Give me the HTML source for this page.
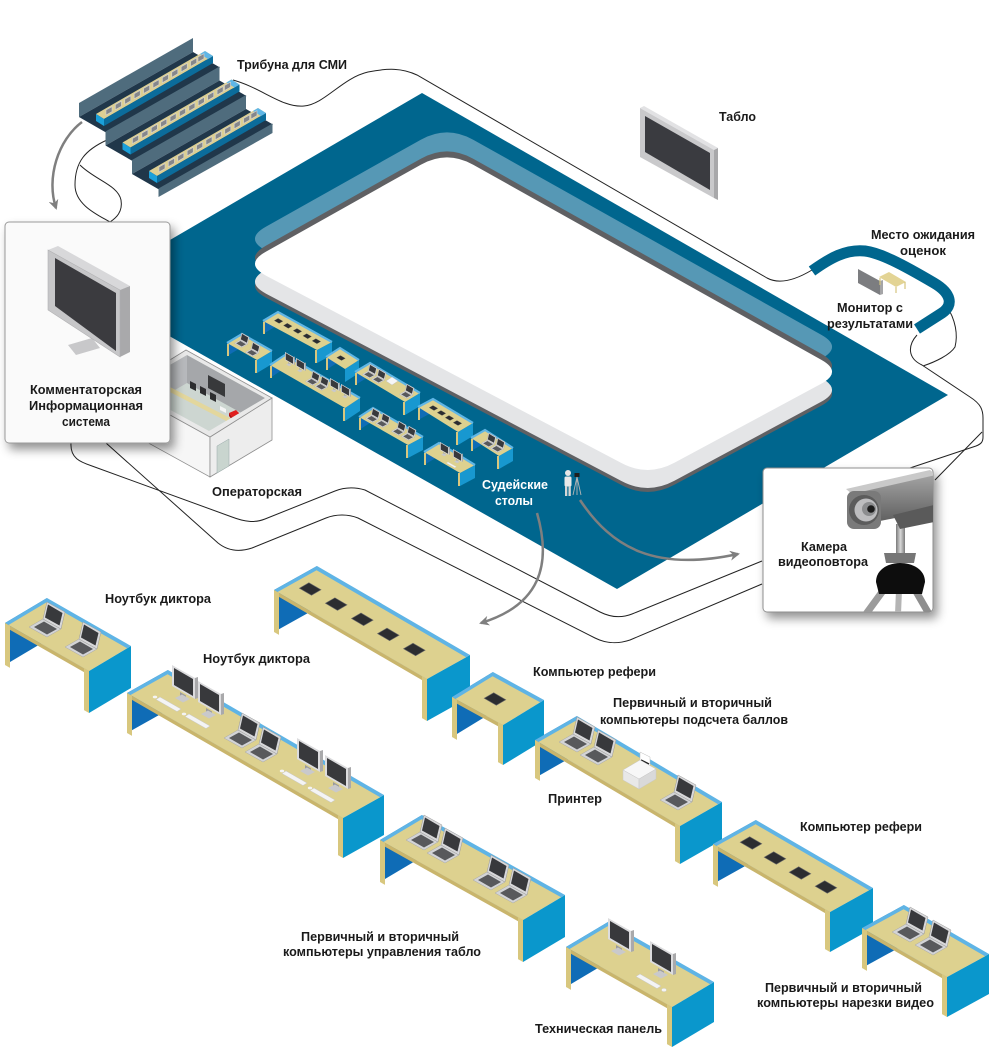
<!DOCTYPE html>
<html><head><meta charset="utf-8">
<style>
html,body{margin:0;padding:0;background:#fff;}
svg{display:block;}
text{font-family:"Liberation Sans",Arial,sans-serif;font-weight:bold;font-size:13px;fill:#1a1a1a;}
</style></head>
<body>
<svg width="992" height="1061" viewBox="0 0 992 1061" xmlns="http://www.w3.org/2000/svg">
<defs>
  <filter id="sh" x="-20%" y="-20%" width="150%" height="150%">
    <feDropShadow dx="4" dy="6" stdDeviation="5" flood-color="#000" flood-opacity="0.42"/>
  </filter>
  <marker id="ah" viewBox="0 0 10 10" refX="8" refY="5" markerWidth="4" markerHeight="4" orient="auto">
    <path d="M0,0 L10,5 L0,10 L3,5 Z" fill="#7f7f7f"/>
  </marker>
  <path id="rk" d="M473.2,164.7 L821.2,359.8 Q843,372 821,383.9 L674.4,462.8 Q648,477 621.4,463 L266.1,275.7 Q244,264 265.8,251.7 L420.8,164.7 Q447,150 473.2,164.7 Z"/>
  <g id="lap">
    <polygon points="0,0 18,10 4,18 -14,8" fill="#d3d4d6" stroke="#a8a8a8" stroke-width="0.5"/>
    <polygon points="1,2.5 14,10 4,15.5 -9,8" fill="#58595c"/>
    <polygon points="0,0 18,10 22,-7 4,-17" fill="#d8d8da" stroke="#999" stroke-width="0.5"/>
    <polygon points="2,-1.5 16.5,6.5 19.5,-6 5,-14.5" fill="#38393c"/>
  </g>
  <g id="tab"><polygon points="-10.8,-0.8 -1.3,-6.3 10.8,0.8 1.3,6.3" fill="#2c2d30" stroke="#6a6a6a" stroke-width="0.6"/></g>
  <g id="mon">
    <polygon points="8,27 14,30.5 14,36 8,32.5" fill="#9a9a9c"/>
    <polygon points="3,33 11,37.5 18,34 10,29.5" fill="#c9c9cb"/>
    <polygon points="0,0 23,13 23,34 0,21" fill="#dcdcde"/>
    <polygon points="23,13 26,12 26,33 23,34" fill="#a9a9ab"/>
    <polygon points="2,3 21,14 21,31 2,20" fill="#38393c"/>
  </g>
  <g id="kb"><polygon points="0,0 21,12 17,14.5 -4,2.5" fill="#f4f4f4" stroke="#c8c8c8" stroke-width="0.5"/></g>
  <g id="tm"><polygon points="0,0 6,-3.4 6,-8.4 0,-5" fill="#85878b" stroke="#d4d4d4" stroke-width="0.6"/></g>
  <clipPath id="rc"><polygon points="130,388 187,355 265,398 209,431"/></clipPath>
  <clipPath id="cbox"><rect x="763" y="468" width="170" height="144" rx="4"/></clipPath>
  <linearGradient id="gcam" x1="0" y1="0" x2="0" y2="1">
    <stop offset="0" stop-color="#a6a6a6"/><stop offset="1" stop-color="#5e5e5e"/>
  </linearGradient>
  <linearGradient id="gpole" x1="0" y1="0" x2="1" y2="0">
    <stop offset="0" stop-color="#7a7a7a"/><stop offset="0.5" stop-color="#d8d8d8"/><stop offset="1" stop-color="#7a7a7a"/>
  </linearGradient>
</defs>

<!-- concourse outline lines -->
<g fill="none" stroke="#222" stroke-width="1">
  <path d="M233,80 C262,88 282,108 304,106 C325,104 342,78 368,72 C388,68 402,68 417,75 L767,278 C780,285 797,279 812,270"/>
  <path d="M946,305 C956,320 958,335 955,347 C950,355 935,362 923,366"/>
  <path d="M917,335 C908,345 907,358 922,365 L970,397 C981,404 983,410 983,418 L983,437 C983,442 981,444 976,446 L910,468"/>
  <path d="M982,432 L935,480"/>
  <path d="M107,140 C85,150 75,162 75,185 C75,205 98,215 110,222"/>
  <path d="M80,165 C95,180 118,185 121,200 C123,212 116,218 110,222"/>
  <path d="M71,443 C70,458 80,462 92,466 L232,517 C245,522 255,523 265,519 L335,491 C345,487 355,487 365,490 L600,612 C612,618 622,618 632,614 L762,561"/>
  <path d="M106,443 L218,543 C228,551 240,552 252,548 L326,518 C336,514 348,514 358,518 L595,638 C607,644 618,644 630,640 L762,584"/>
</g>

<!-- floor -->
<polygon points="422,93 948,395 617,589 86,289" fill="#00668e"/>

<!-- rink -->
<use href="#rk" transform="translate(0,-25)" fill="#5698b5"/>
<use href="#rk" transform="translate(0,-6)" fill="#5f6063"/>
<use href="#rk" transform="translate(0,22)" fill="#5f6063"/>
<use href="#rk" transform="translate(0,18)" fill="#e4e5e7"/>
<use href="#rk" fill="#ffffff"/>

<!-- judges tables (tiny) -->
<g>
  <polygon points="263,321 278,312 278,325 263,334" fill="#0f6cb6"/>
  <polygon points="317,350 332,342 332,355 317,363" fill="#1898d0"/>
  <polygon points="263,321 278,312 332,342 317,350" fill="#ddd18f"/>
  <polyline points="263,321 278,312 332,342" fill="none" stroke="#5fb6e6" stroke-width="2.2"/>
  <line x1="264" y1="322" x2="264" y2="334" stroke="#d8c77e" stroke-width="2"/>
  <line x1="316" y1="350" x2="316" y2="363" stroke="#d8c77e" stroke-width="2"/>
  <use href="#tab" transform="translate(278.6,320.9) scale(0.4)"/>
  <use href="#tab" transform="translate(287.8,325.8) scale(0.4)"/>
  <use href="#tab" transform="translate(297.5,331) scale(0.4)"/>
  <use href="#tab" transform="translate(307.2,336.2) scale(0.4)"/>
  <use href="#tab" transform="translate(316.4,341.2) scale(0.4)"/>
  <polygon points="227,343 242,334 242,347 227,356" fill="#0f6cb6"/>
  <polygon points="257,360 272,351 272,364 257,373" fill="#1898d0"/>
  <polygon points="227,343 242,334 272,351 257,360" fill="#ddd18f"/>
  <polyline points="227,343 242,334 272,351" fill="none" stroke="#5fb6e6" stroke-width="2.2"/>
  <line x1="228" y1="344" x2="228" y2="356" stroke="#d8c77e" stroke-width="2"/>
  <line x1="256" y1="360" x2="256" y2="373" stroke="#d8c77e" stroke-width="2"/>
  <use href="#lap" transform="translate(240,340) scale(0.42)"/>
  <use href="#lap" transform="translate(251,349) scale(0.42)"/>
  <polygon points="326,357 340,348 340,361 326,370" fill="#0f6cb6"/>
  <polygon points="345,369 359,360 359,373 345,382" fill="#1898d0"/>
  <polygon points="326,357 340,348 359,360 345,369" fill="#ddd18f"/>
  <polyline points="326,357 340,348 359,360" fill="none" stroke="#5fb6e6" stroke-width="2.2"/>
  <line x1="327" y1="358" x2="327" y2="370" stroke="#d8c77e" stroke-width="2"/>
  <use href="#tab" transform="translate(341,358) scale(0.4)"/>
  <polygon points="270,365 285,355 285,368 270,378" fill="#0f6cb6"/>
  <polygon points="345,408 360,398 360,411 345,421" fill="#1898d0"/>
  <polygon points="270,365 285,355 360,398 345,408" fill="#ddd18f"/>
  <polyline points="270,365 285,355 360,398" fill="none" stroke="#5fb6e6" stroke-width="2.2"/>
  <line x1="271" y1="366" x2="271" y2="378" stroke="#d8c77e" stroke-width="2"/>
  <line x1="344" y1="408" x2="344" y2="421" stroke="#d8c77e" stroke-width="2"/>
  <use href="#mon" transform="translate(285,352) scale(0.38)"/>
  <use href="#mon" transform="translate(296,358) scale(0.38)"/>
  <use href="#lap" transform="translate(311,378) scale(0.42)"/>
  <use href="#lap" transform="translate(320,383) scale(0.42)"/>
  <use href="#mon" transform="translate(330,378) scale(0.38)"/>
  <use href="#mon" transform="translate(341,384) scale(0.38)"/>
  <polygon points="355,372 370,363 370,376 355,385" fill="#0f6cb6"/>
  <polygon points="405,402 420,393 420,406 405,415" fill="#1898d0"/>
  <polygon points="355,372 370,363 420,393 405,402" fill="#ddd18f"/>
  <polyline points="355,372 370,363 420,393" fill="none" stroke="#5fb6e6" stroke-width="2.2"/>
  <line x1="356" y1="373" x2="356" y2="385" stroke="#d8c77e" stroke-width="2"/>
  <line x1="404" y1="402" x2="404" y2="415" stroke="#d8c77e" stroke-width="2"/>
  <use href="#lap" transform="translate(368,371) scale(0.42)"/>
  <use href="#lap" transform="translate(377,376) scale(0.42)"/>
  <polygon points="386,381 392,377 398,381 392,385" fill="#f6f6f6" stroke="#bbb" stroke-width="0.4"/>
  <use href="#lap" transform="translate(405,391) scale(0.42)"/>
  <polygon points="418,407 433,399 433,412 418,420" fill="#0f6cb6"/>
  <polygon points="458,432 473,423 473,436 458,445" fill="#1898d0"/>
  <polygon points="418,407 433,399 473,423 458,432" fill="#ddd18f"/>
  <polyline points="418,407 433,399 473,423" fill="none" stroke="#5fb6e6" stroke-width="2.2"/>
  <line x1="419" y1="408" x2="419" y2="420" stroke="#d8c77e" stroke-width="2"/>
  <line x1="457" y1="432" x2="457" y2="445" stroke="#d8c77e" stroke-width="2"/>
  <use href="#tab" transform="translate(433.5,408) scale(0.4)"/>
  <use href="#tab" transform="translate(441.5,413) scale(0.4)"/>
  <use href="#tab" transform="translate(449.5,418) scale(0.4)"/>
  <use href="#tab" transform="translate(457.5,423) scale(0.4)"/>
  <polygon points="359,417 373,408 373,421 359,430" fill="#0f6cb6"/>
  <polygon points="408,445 423,437 423,450 408,458" fill="#1898d0"/>
  <polygon points="359,417 373,408 423,437 408,445" fill="#ddd18f"/>
  <polyline points="359,417 373,408 423,437" fill="none" stroke="#5fb6e6" stroke-width="2.2"/>
  <line x1="360" y1="418" x2="360" y2="430" stroke="#d8c77e" stroke-width="2"/>
  <line x1="407" y1="445" x2="407" y2="458" stroke="#d8c77e" stroke-width="2"/>
  <use href="#lap" transform="translate(371,415) scale(0.42)"/>
  <use href="#lap" transform="translate(381,420) scale(0.42)"/>
  <use href="#lap" transform="translate(397,428) scale(0.42)"/>
  <use href="#lap" transform="translate(407,433) scale(0.42)"/>
  <polygon points="471,438 485,430 485,443 471,451" fill="#0f6cb6"/>
  <polygon points="499,456 513,448 513,461 499,469" fill="#1898d0"/>
  <polygon points="471,438 485,430 513,448 499,456" fill="#ddd18f"/>
  <polyline points="471,438 485,430 513,448" fill="none" stroke="#5fb6e6" stroke-width="2.2"/>
  <line x1="472" y1="439" x2="472" y2="451" stroke="#d8c77e" stroke-width="2"/>
  <line x1="498" y1="456" x2="498" y2="469" stroke="#d8c77e" stroke-width="2"/>
  <use href="#lap" transform="translate(487,440) scale(0.42)"/>
  <use href="#lap" transform="translate(496,445) scale(0.42)"/>
  <polygon points="424,452 439,443 439,456 424,465" fill="#0f6cb6"/>
  <polygon points="460,473 475,465 475,478 460,486" fill="#1898d0"/>
  <polygon points="424,452 439,443 475,465 460,473" fill="#ddd18f"/>
  <polyline points="424,452 439,443 475,465" fill="none" stroke="#5fb6e6" stroke-width="2.2"/>
  <line x1="425" y1="453" x2="425" y2="465" stroke="#d8c77e" stroke-width="2"/>
  <line x1="459" y1="473" x2="459" y2="486" stroke="#d8c77e" stroke-width="2"/>
  <use href="#mon" transform="translate(440,442) scale(0.38)"/>
  <use href="#mon" transform="translate(453,449) scale(0.38)"/>
  <use href="#kb" transform="translate(448,462) scale(0.4)"/>
</g>

<!-- person & tripod -->
<g>
  <circle cx="568" cy="473" r="3" fill="#e6e6e6"/>
  <rect x="564.5" y="476.5" width="7" height="10" rx="1.5" fill="#e9e9e9"/>
  <rect x="565" y="486" width="2.3" height="10" fill="#d6d6d6"/>
  <rect x="568.5" y="486" width="2.3" height="10" fill="#d6d6d6"/>
  <rect x="574.5" y="473" width="5" height="4" fill="#1e1e1e"/>
  <g stroke="#b5b5b5" stroke-width="0.9"><line x1="577" y1="477" x2="573" y2="495"/><line x1="577" y1="477" x2="577" y2="495"/><line x1="577" y1="477" x2="581" y2="495"/></g>
</g>

<!-- operator room -->
<g>
  <polygon points="123,389 210,437 210,477 123,429" fill="#f6f6f6" stroke="#8f8f8f" stroke-width="0.8"/>
  <polygon points="210,437 272,398 272,440 210,477" fill="#ededed" stroke="#8f8f8f" stroke-width="0.8"/>
  <polygon points="217,446 229,439 229,466 217,473" fill="#c9d5cf" stroke="#9aa" stroke-width="0.5"/>
  <polygon points="123,389 186,350 272,398 210,437" fill="#e9e9e9" stroke="#8f8f8f" stroke-width="0.8"/>
  <g clip-path="url(#rc)">
    <rect x="120" y="340" width="160" height="100" fill="#cdd6d1"/>
    <polygon points="130,388 187,355 187,383 130,416" fill="#b7b9bc"/>
    <polygon points="187,355 265,398 265,426 187,383" fill="#a5a7aa"/>
    <polygon points="208,375 225,384 225,397 208,388" fill="#38393b"/>
    <polygon points="168,386 232,419 232,424 168,391" fill="#e3d79d"/>
    <polygon points="190,381 196,384 196,391 190,388" fill="#2d2d2f"/>
    <polygon points="200,386 206,389 206,396 200,393" fill="#2d2d2f"/>
    <polygon points="210,392 216,395 216,402 210,399" fill="#2d2d2f"/>
    <polygon points="220,406 226,409 226,413 220,410" fill="#f5f5f5"/>
    <polygon points="229,413 236,410 240,414 233,418" fill="#e01e1e"/>
    <polygon points="229,413 233,418 233,421 229,416" fill="#b01010"/>
  </g>
</g>

<!-- commentator box -->
<g>
  <rect x="5" y="222" width="165" height="221" rx="4" fill="#fafafa" stroke="#9a9a9a" stroke-width="1" filter="url(#sh)"/>
  <polygon points="68,345 92,338 100,348 76,355" fill="#c8c8ca"/>
  <polygon points="48,250 58,246 130,286 120,290" fill="#d8d8da"/>
  <polygon points="120,290 130,286 130,352 120,357" fill="#a9a9ab"/>
  <polygon points="48,250 120,290 120,357 48,310" fill="#c6c6c8" stroke="#b0b0b2" stroke-width="0.6"/>
  <polygon points="55,258 116,293 116,351 55,306" fill="#3b3b3f"/>
</g>

<!-- tribune -->
<g>
  <polygon points="79,103 193,38 193,52 79,117" fill="#4f6c7d"/>
  <polygon points="79,117 193,52 220,67.5 106,132.5" fill="#20374a"/>
  <polygon points="96,114 205,51 213,56 104,119" fill="#dccf93"/>
  <polygon points="104,119 213,56 213,63 104,126" fill="#0b6c9b"/>
  <polygon points="96,114 104,119 104,126 96,121" fill="#1aa0da"/>
  <polygon points="200,54 205,51 213,56 208,59" fill="#5fb6e6"/>

  <polygon points="105.5,131.5 219.5,66.5 219.5,80.5 105.5,145.5" fill="#4f6c7d"/>
  <polygon points="105.5,145.5 219.5,80.5 246.5,96 132.5,161" fill="#20374a"/>
  <polygon points="122.5,142.5 231.5,79.5 239.5,84.5 130.5,147.5" fill="#dccf93"/>
  <polygon points="130.5,147.5 239.5,84.5 239.5,91.5 130.5,154.5" fill="#0b6c9b"/>
  <polygon points="122.5,142.5 130.5,147.5 130.5,154.5 122.5,149.5" fill="#1aa0da"/>
  <polygon points="226.5,82.5 231.5,79.5 239.5,84.5 234.5,87.5" fill="#5fb6e6"/>

  <polygon points="132,160 246,95 246,109 132,174" fill="#4f6c7d"/>
  <polygon points="132,174 246,109 273,124.5 159,189.5" fill="#20374a"/>
  <polygon points="149,171 258,108 266,113 157,176" fill="#dccf93"/>
  <polygon points="157,176 266,113 266,120 157,183" fill="#0b6c9b"/>
  <polygon points="149,171 157,176 157,183 149,178" fill="#1aa0da"/>
  <polygon points="253,111 258,108 266,113 261,116" fill="#5fb6e6"/>

  <polygon points="158.5,188.5 272.5,123.5 272.5,133 158.5,197" fill="#4f6c7d"/>

  <g>
    <use href="#tm" x="106" y="115"/><use href="#tm" x="115.4" y="109.6"/><use href="#tm" x="124.8" y="104.2"/><use href="#tm" x="134.2" y="98.8"/><use href="#tm" x="143.6" y="93.4"/><use href="#tm" x="153" y="88"/><use href="#tm" x="162.4" y="82.6"/><use href="#tm" x="171.8" y="77.2"/><use href="#tm" x="181.2" y="71.8"/><use href="#tm" x="190.6" y="66.4"/><use href="#tm" x="198" y="62"/>
    <use href="#tm" x="132.5" y="143.5"/><use href="#tm" x="141.9" y="138.1"/><use href="#tm" x="151.3" y="132.7"/><use href="#tm" x="160.7" y="127.3"/><use href="#tm" x="170.1" y="121.9"/><use href="#tm" x="179.5" y="116.5"/><use href="#tm" x="188.9" y="111.1"/><use href="#tm" x="198.3" y="105.7"/><use href="#tm" x="207.7" y="100.3"/><use href="#tm" x="217.1" y="94.9"/><use href="#tm" x="224.5" y="90.5"/>
    <use href="#tm" x="159" y="172"/><use href="#tm" x="168.4" y="166.6"/><use href="#tm" x="177.8" y="161.2"/><use href="#tm" x="187.2" y="155.8"/><use href="#tm" x="196.6" y="150.4"/><use href="#tm" x="206" y="145"/><use href="#tm" x="215.4" y="139.6"/><use href="#tm" x="224.8" y="134.2"/><use href="#tm" x="234.2" y="128.8"/><use href="#tm" x="243.6" y="123.4"/><use href="#tm" x="251" y="119"/>
  </g>
</g>

<!-- tablo -->
<g>
  <polygon points="640,108 644,106 718,148 714,150" fill="#e2e2e4"/>
  <polygon points="714,150 718,148 718,200 714,198" fill="#a8a8aa"/>
  <polygon points="640,108 714,150 714,198 640,157" fill="#c9c9cb"/>
  <polygon points="645,116 710,153 710,190 645,152" fill="#3a3b40"/>
</g>

<!-- waiting area -->
<g>
  <path d="M812,271 C830,258 846,249 865,251 C880,253 900,263 934,283 C951,293 954,305 942,313 L917,329" fill="none" stroke="#00668e" stroke-width="11"/>
  <polygon points="858,269 880,281 880,295 858,283" fill="#7c7d80"/>
  <polygon points="880,281 883,280 883,294 880,295" fill="#a5a5a7"/>
  <polygon points="879,277 889,272 906,282 896,287" fill="#e3d495"/>
  <g stroke="#d4c47e" stroke-width="1.2"><line x1="880" y1="278" x2="880" y2="285"/><line x1="896" y1="287" x2="896" y2="293"/><line x1="905" y1="282" x2="905" y2="289"/></g>
</g>

<!-- camera box -->
<g>
  <rect x="763" y="468" width="170" height="144" rx="4" fill="#ffffff" stroke="#8f8f8f" stroke-width="1" filter="url(#sh)"/>
  <g clip-path="url(#cbox)">
    <line x1="885" y1="588" x2="866" y2="614" stroke="#9b9b9b" stroke-width="7"/>
    <line x1="899" y1="590" x2="898" y2="614" stroke="#b4b4b4" stroke-width="6"/>
    <line x1="914" y1="588" x2="929" y2="614" stroke="#8e8e8e" stroke-width="7"/>
    <rect x="896" y="524" width="9" height="32" fill="url(#gpole)"/>
    <polygon points="884,553 916,553 914,563 886,563" fill="#767676"/>
    <path d="M876,582 C876,569 889,563 900,563 C912,563 925,569 925,582 L922,594 L879,594 Z" fill="#0d0d0d"/>
    <polygon points="852,490 936,473 936,507 905,516 870,523 852,521" fill="url(#gcam)"/>
    <polygon points="846,489 930,470 936,475 852,494" fill="#c9c9c9"/>
    <polygon points="893,515 934,505 934,522 900,529" fill="#5a5a5a"/>
    <rect x="847" y="491" width="34" height="38" rx="7" fill="#7a7a7a"/>
    <circle cx="864" cy="510" r="15" fill="#5c5c5c"/>
    <circle cx="866" cy="510" r="11.5" fill="#bdbdbf"/>
    <circle cx="869" cy="509" r="7" fill="#8c8d8f"/>
    <circle cx="871" cy="509" r="3.8" fill="#1c1c1c"/>
  </g>
</g>

<!-- bottom tables -->
<g>
  <polygon points="274,590 317,566 317,608 274,632" fill="#0f6cb6"/>
  <polygon points="427,679 470,655 470,697 427,721" fill="#0a97cc"/>
  <polygon points="274,590 317,566 470,655 427,679" fill="#5fb4e5"/>
  <polygon points="277.5,592 316.6,570.3 466.1,657.3 427,679" fill="#ddd18f"/>
  <polygon points="274,590 427,679 427,683 274,594" fill="#c9b56c"/>
  <polygon points="422,676.1 427,679 427,721 422,718.1" fill="#d8c77e"/>
  <polygon points="274,590 279,592.9 279,634.9 274,632" fill="#d8c77e"/>
  <use href="#tab" x="310.2" y="589"/><use href="#tab" x="336.2" y="604.1"/><use href="#tab" x="362.3" y="619.3"/><use href="#tab" x="388.3" y="634.4"/><use href="#tab" x="414.3" y="649.5"/>
</g>
<g>
  <polygon points="5,623 47,598 47,640 5,665" fill="#0f6cb6"/>
  <polygon points="89,671 131,646 131,688 89,713" fill="#0a97cc"/>
  <polygon points="5,623 47,598 131,646 89,671" fill="#5fb4e5"/>
  <polygon points="8.5,625 46.6,602.3 127.1,648.3 89,671" fill="#ddd18f"/>
  <polygon points="5,623 89,671 89,675 5,627" fill="#c9b56c"/>
  <polygon points="84,668.1 89,671 89,713 84,710.1" fill="#d8c77e"/>
  <polygon points="5,623 10,625.9 10,667.9 5,665" fill="#d8c77e"/>
  <use href="#lap" x="43" y="619"/><use href="#lap" x="79" y="639"/>
</g>
<g>
  <polygon points="452,697 493,672 493,712 452,737" fill="#0f6cb6"/>
  <polygon points="503,725 544,700 544,740 503,765" fill="#0a97cc"/>
  <polygon points="452,697 493,672 544,700 503,725" fill="#5fb4e5"/>
  <polygon points="455.5,699 492.6,676.3 540.1,702.3 503,725" fill="#ddd18f"/>
  <polygon points="452,697 503,725 503,729 452,701" fill="#c9b56c"/>
  <polygon points="498,722.1 503,725 503,765 498,762.1" fill="#d8c77e"/>
  <polygon points="452,697 457,699.9 457,739.9 452,737" fill="#d8c77e"/>
  <use href="#tab" x="495" y="699"/>
</g>
<g>
  <polygon points="127,693 168,670 168,710 127,733" fill="#0f6cb6"/>
  <polygon points="343,818 384,795 384,835 343,858" fill="#0a97cc"/>
  <polygon points="127,693 168,670 384,795 343,818" fill="#5fb4e5"/>
  <polygon points="130.5,695 167.6,674.3 380.1,797.3 343,818" fill="#ddd18f"/>
  <polygon points="127,693 343,818 343,822 127,697" fill="#c9b56c"/>
  <polygon points="338,815.1 343,818 343,858 338,855.1" fill="#d8c77e"/>
  <polygon points="127,693 132,695.9 132,735.9 127,733" fill="#d8c77e"/>
  <use href="#mon" x="172" y="665"/><use href="#mon" x="198" y="681"/>
  <use href="#kb" x="160" y="697"/><use href="#kb" x="189" y="714"/>
  <ellipse cx="155" cy="697" rx="2.2" ry="1.4" fill="#f4f4f4"/><ellipse cx="184" cy="714" rx="2.2" ry="1.4" fill="#f4f4f4"/>
  <use href="#lap" x="238" y="730"/><use href="#lap" x="259" y="744"/>
  <use href="#mon" x="297" y="738"/><use href="#mon" x="325" y="755"/>
  <use href="#kb" x="286" y="771"/><use href="#kb" x="314" y="788"/>
  <ellipse cx="282" cy="771" rx="2.2" ry="1.4" fill="#f4f4f4"/><ellipse cx="310" cy="788" rx="2.2" ry="1.4" fill="#f4f4f4"/>
</g>
<g>
  <polygon points="535,740 577,716 577,754 535,778" fill="#0f6cb6"/>
  <polygon points="680,826 722,802 722,840 680,864" fill="#0a97cc"/>
  <polygon points="535,740 577,716 722,802 680,826" fill="#5fb4e5"/>
  <polygon points="538.5,742 576.6,720.3 718.1,804.3 680,826" fill="#ddd18f"/>
  <polygon points="535,740 680,826 680,830 535,744" fill="#c9b56c"/>
  <polygon points="675,823.1 680,826 680,864 675,861.1" fill="#d8c77e"/>
  <polygon points="535,740 540,742.9 540,780.9 535,778" fill="#d8c77e"/>
  <use href="#lap" x="573" y="734"/><use href="#lap" x="594" y="747"/>
  <polygon points="640,752 650,757 650,768 640,763" fill="#ffffff" stroke="#bbb" stroke-width="0.5"/>
  <line x1="641" y1="760" x2="649" y2="764" stroke="#222" stroke-width="1.5"/>
  <polygon points="623,770 640,760 656,769 639,779" fill="#f7f7f7" stroke="#c8c8c8" stroke-width="0.5"/>
  <polygon points="623,770 639,779 639,789 623,780" fill="#e8e8e8" stroke="#c8c8c8" stroke-width="0.5"/>
  <polygon points="639,779 656,769 656,779 639,789" fill="#d9d9d9" stroke="#c8c8c8" stroke-width="0.5"/>
  <use href="#lap" x="674" y="792"/>
</g>
<g>
  <polygon points="713,844 756,820 756,860 713,884" fill="#0f6cb6"/>
  <polygon points="830,912 873,888 873,928 830,952" fill="#0a97cc"/>
  <polygon points="713,844 756,820 873,888 830,912" fill="#5fb4e5"/>
  <polygon points="716.5,846 755.6,824.3 869.1,890.3 830,912" fill="#ddd18f"/>
  <polygon points="713,844 830,912 830,916 713,848" fill="#c9b56c"/>
  <polygon points="825,909.1 830,912 830,952 825,949.1" fill="#d8c77e"/>
  <polygon points="713,844 718,846.9 718,886.9 713,884" fill="#d8c77e"/>
  <use href="#tab" x="751" y="843"/><use href="#tab" x="775" y="858"/><use href="#tab" x="800" y="873"/><use href="#tab" x="826" y="887"/>
</g>
<g>
  <polygon points="380,840 422,815 422,857 380,882" fill="#0f6cb6"/>
  <polygon points="523,920 565,895 565,937 523,962" fill="#0a97cc"/>
  <polygon points="380,840 422,815 565,895 523,920" fill="#5fb4e5"/>
  <polygon points="383.5,842 421.6,819.3 561.1,897.3 523,920" fill="#ddd18f"/>
  <polygon points="380,840 523,920 523,924 380,844" fill="#c9b56c"/>
  <polygon points="518,917.1 523,920 523,962 518,959.1" fill="#d8c77e"/>
  <polygon points="380,840 385,842.9 385,884.9 380,882" fill="#d8c77e"/>
  <use href="#lap" x="420" y="832"/><use href="#lap" x="441" y="845"/><use href="#lap" x="487" y="872"/><use href="#lap" x="509" y="885"/>
</g>
<g>
  <polygon points="566,947 608,922 608,962 566,987" fill="#0f6cb6"/>
  <polygon points="672,1007 714,982 714,1022 672,1047" fill="#0a97cc"/>
  <polygon points="566,947 608,922 714,982 672,1007" fill="#5fb4e5"/>
  <polygon points="569.5,949 607.6,926.3 710.1,984.3 672,1007" fill="#ddd18f"/>
  <polygon points="566,947 672,1007 672,1011 566,951" fill="#c9b56c"/>
  <polygon points="667,1004.1 672,1007 672,1047 667,1044.1" fill="#d8c77e"/>
  <polygon points="566,947 571,949.9 571,989.9 566,987" fill="#d8c77e"/>
  <use href="#mon" x="608" y="918"/><use href="#mon" x="650" y="941"/>
  <use href="#kb" x="640" y="974"/>
  <ellipse cx="664" cy="990" rx="2.4" ry="1.6" fill="#f4f4f4" stroke="#ccc" stroke-width="0.4"/>
</g>
<g>
  <polygon points="862,928 904,905 904,945 862,968" fill="#0f6cb6"/>
  <polygon points="947,977 989,954 989,994 947,1017" fill="#0a97cc"/>
  <polygon points="862,928 904,905 989,954 947,977" fill="#5fb4e5"/>
  <polygon points="865.5,930 903.6,909.3 985.1,956.3 947,977" fill="#ddd18f"/>
  <polygon points="862,928 947,977 947,981 862,932" fill="#c9b56c"/>
  <polygon points="942,974.1 947,977 947,1017 942,1014.1" fill="#d8c77e"/>
  <polygon points="862,928 867,930.9 867,970.9 862,968" fill="#d8c77e"/>
  <use href="#lap" x="906" y="924"/><use href="#lap" x="929" y="937"/>
</g>

<!-- arrows -->
<g fill="none" stroke="#7f7f7f" stroke-width="2.5">
  <path d="M82,122 C58,140 46,178 56,208" marker-end="url(#ah)"/>
  <path d="M537,513 C552,565 540,605 481,623" marker-end="url(#ah)"/>
  <path d="M580,500 C612,548 655,572 738,554" marker-end="url(#ah)"/>
</g>

<!-- labels -->
<text x="237" y="69" textLength="110" lengthAdjust="spacingAndGlyphs">Трибуна для СМИ</text>
<text x="719" y="121" textLength="37" lengthAdjust="spacingAndGlyphs">Табло</text>
<text x="871" y="239" textLength="104" lengthAdjust="spacingAndGlyphs">Место ожидания</text>
<text x="900" y="255" textLength="46" lengthAdjust="spacingAndGlyphs">оценок</text>
<text x="837" y="312" textLength="66" lengthAdjust="spacingAndGlyphs">Монитор с</text>
<text x="827" y="328" textLength="86" lengthAdjust="spacingAndGlyphs">результатами</text>
<text x="30" y="394" textLength="112" lengthAdjust="spacingAndGlyphs">Комментаторская</text>
<text x="29" y="410" textLength="114" lengthAdjust="spacingAndGlyphs">Информационная</text>
<text x="62" y="426" textLength="48" lengthAdjust="spacingAndGlyphs">система</text>
<text x="212" y="496" textLength="90" lengthAdjust="spacingAndGlyphs">Операторская</text>
<text x="482" y="489" textLength="66" lengthAdjust="spacingAndGlyphs" style="fill:#ffffff">Судейские</text>
<text x="495" y="505" textLength="38" lengthAdjust="spacingAndGlyphs" style="fill:#ffffff">столы</text>
<text x="801" y="551" textLength="46" lengthAdjust="spacingAndGlyphs">Камера</text>
<text x="778" y="566" textLength="90" lengthAdjust="spacingAndGlyphs">видеоповтора</text>
<text x="105" y="603" textLength="106" lengthAdjust="spacingAndGlyphs">Ноутбук диктора</text>
<text x="203" y="663" textLength="107" lengthAdjust="spacingAndGlyphs">Ноутбук диктора</text>
<text x="533" y="676" textLength="123" lengthAdjust="spacingAndGlyphs">Компьютер рефери</text>
<text x="613" y="707" textLength="159" lengthAdjust="spacingAndGlyphs">Первичный и вторичный</text>
<text x="600" y="724" textLength="188" lengthAdjust="spacingAndGlyphs">компьютеры подсчета баллов</text>
<text x="548" y="803" textLength="54" lengthAdjust="spacingAndGlyphs">Принтер</text>
<text x="800" y="831" textLength="122" lengthAdjust="spacingAndGlyphs">Компьютер рефери</text>
<text x="301" y="941" textLength="158" lengthAdjust="spacingAndGlyphs">Первичный и вторичный</text>
<text x="283" y="956" textLength="198" lengthAdjust="spacingAndGlyphs">компьютеры управления табло</text>
<text x="535" y="1033" textLength="127" lengthAdjust="spacingAndGlyphs">Техническая панель</text>
<text x="765" y="992" textLength="157" lengthAdjust="spacingAndGlyphs">Первичный и вторичный</text>
<text x="757" y="1007" textLength="177" lengthAdjust="spacingAndGlyphs">компьютеры нарезки видео</text>
</svg>
</body></html>
